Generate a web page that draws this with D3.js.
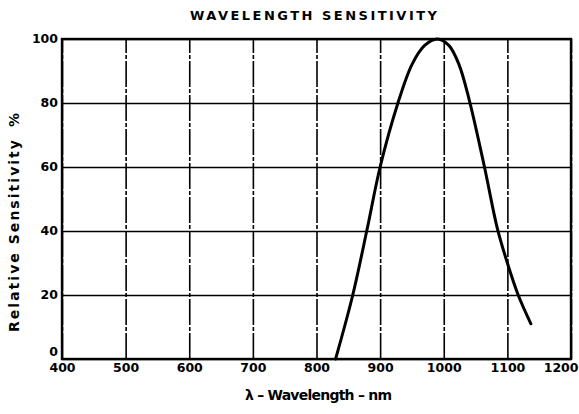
<!DOCTYPE html>
<html>
<head>
<meta charset="utf-8">
<script src="https://cdn.jsdelivr.net/npm/d3@7"></script>
<style>
  html, body { margin: 0; padding: 0; background: #fff; }
  svg { display: block; }
  text { font-family: "DejaVu Sans", "Liberation Sans", Arial, sans-serif; font-weight: bold; fill: #000; }
</style>
</head>
<body>
<svg id="chart" width="579" height="414"></svg>
<script>
const title = "WAVELENGTH SENSITIVITY";
const xLabel = "λ – Wavelength – nm";
const yLabel = "Relative Sensitivity";
const yUnit = "%";
const xTicks = [400, 500, 600, 700, 800, 900, 1000, 1100, 1200];
const yTicks = [0, 20, 40, 60, 80, 100];
const wavelength = [830, 857, 880, 900, 928, 950, 970, 990, 1008, 1024, 1040, 1064, 1084, 1100, 1117, 1137];
const sensitivity = [0, 20, 41, 60, 80, 92, 98, 100, 98, 92, 81, 60, 41, 30, 20, 11];

const svg = d3.select("#chart");
const W = 579, H = 414;
const m = { left: 62, right: 8, top: 39, bottom: 55 };
const x = d3.scaleLinear().domain([400, 1200]).range([m.left, W - m.right]);
const y = d3.scaleLinear().domain([0, 100]).range([H - m.bottom, m.top]);
const FONT = "'DejaVu Sans', 'Liberation Sans', Arial, sans-serif";

// Grid
const gx = svg.append("g").attr("transform", `translate(0,${y(0)})`)
  .call(d3.axisBottom(x).tickValues(xTicks).tickSize(-(y(0) - y(100))).tickFormat(""));
gx.select(".domain").remove();
gx.selectAll("line").attr("stroke", "#000").attr("stroke-width", 1.6)
  .attr("stroke-dasharray", "26,2,4,2");

const gy = svg.append("g").attr("transform", `translate(${x(400)},0)`)
  .call(d3.axisLeft(y).tickValues(yTicks).tickSize(-(x(1200) - x(400))).tickFormat(""));
gy.select(".domain").remove();
gy.selectAll("line").attr("stroke", "#000").attr("stroke-width", 1.6);

// Frame
svg.append("rect")
  .attr("x", x(400)).attr("y", y(100))
  .attr("width", x(1200) - x(400)).attr("height", y(0) - y(100))
  .attr("fill", "none").attr("stroke", "#000").attr("stroke-width", 2.4);

// Tick labels
const ax = svg.append("g").attr("transform", `translate(0,${y(0)})`)
  .call(d3.axisBottom(x).tickValues(xTicks).tickSize(0).tickPadding(4).tickFormat(d3.format("d")));
ax.select(".domain").remove();
ax.selectAll("text").style("font-size", "12.5px").style("font-weight", "bold")
  .style("font-family", FONT).attr("fill", "#000");
ax.selectAll(".tick").filter(d => d === 1200).select("text")
  .attr("text-anchor", "end").attr("x", W - 1 - x(1200));

const ay = svg.append("g").attr("transform", `translate(${x(400)},0)`)
  .call(d3.axisLeft(y).tickValues(yTicks).tickSize(0).tickPadding(4));
ay.select(".domain").remove();
ay.selectAll("text").style("font-size", "12.5px").style("font-weight", "bold")
  .style("font-family", FONT).attr("fill", "#000")
  .attr("dy", d => d === 0 ? "-0.3em" : "0.3em");

// Curve
const pts = wavelength.map((w, i) => [w, sensitivity[i]]);
svg.append("path")
  .datum(pts)
  .attr("fill", "none").attr("stroke", "#000").attr("stroke-width", 3)
  .attr("stroke-linecap", "round").attr("stroke-linejoin", "round")
  .attr("d", d3.line().x(d => x(d[0])).y(d => y(d[1])).curve(d3.curveCatmullRom.alpha(0.5)));

// Titles
svg.append("text").attr("x", 190).attr("y", 20)
  .style("font-size", "13px").attr("textLength", 247).attr("lengthAdjust", "spacing")
  .text(title);
svg.append("text").attr("x", 245).attr("y", 400)
  .style("font-size", "14px").attr("textLength", 147).attr("lengthAdjust", "spacing")
  .text(xLabel);
svg.append("text").attr("transform", `translate(19,332) rotate(-90)`)
  .style("font-size", "14px").attr("textLength", 192).attr("lengthAdjust", "spacing")
  .text(yLabel);
svg.append("text").attr("transform", `translate(19,120) rotate(-90)`)
  .attr("text-anchor", "middle").style("font-size", "14px")
  .text(yUnit);
</script>
</body>
</html>
